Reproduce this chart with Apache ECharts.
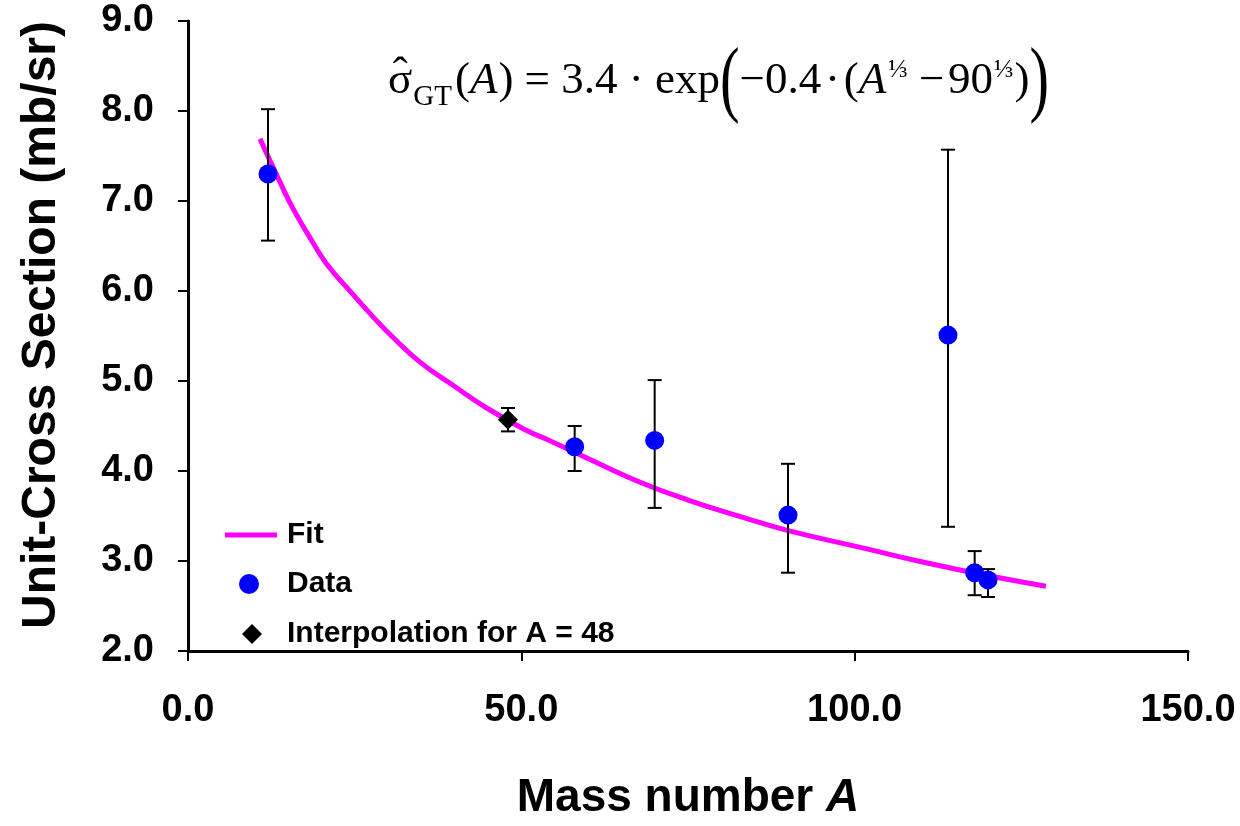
<!DOCTYPE html>
<html><head><meta charset="utf-8">
<script src="https://cdn.jsdelivr.net/npm/echarts@6/dist/echarts.min.js"></script>
<style>html,body{margin:0;padding:0;background:#fff}#c{width:1240px;height:826px}</style>
</head><body><div id="c"></div>
<script>
// ---- data ----
const xTicks = [0, 50, 100, 150];
const yTicks = [2, 3, 4, 5, 6, 7, 8, 9];

// Fit curve
const fitA = [10.8, 13.8, 15.8, 18.8, 20.8, 23.8, 27.8, 30.8, 34.8, 39.8, 44.8, 50.8, 54.2, 61.1, 68.0, 74.9, 83.0, 89.9, 101.5, 110.7, 120.5, 128.7];
const fitV = [7.69, 7.21, 6.91, 6.53, 6.30, 6.04, 5.71, 5.48, 5.21, 4.95, 4.70, 4.45, 4.34, 4.10, 3.87, 3.68, 3.49, 3.34, 3.14, 2.98, 2.83, 2.72];

// Data points with error bars
const dataA  = [12, 58, 70, 90, 114, 118, 120];
const dataV  = [7.30, 4.27, 4.34, 3.51, 5.51, 2.87, 2.79];
const dataHi = [8.02, 4.50, 5.01, 4.08, 7.57, 3.11, 2.91];
const dataLo = [6.56, 4.00, 3.59, 2.87, 3.38, 2.62, 2.60];

// Interpolation point
const interpA  = [48];
const interpV  = [4.57];
const interpHi = [4.70];
const interpLo = [4.44];

const seriesNames = ['Fit', 'Data', 'Interpolation for A = 48'];

// ---- chart ----
const SANS = 'Liberation Sans, Arial, Helvetica, sans-serif';
const SERIF = 'Liberation Serif, Times New Roman, serif';
const chart = echarts.init(document.getElementById('c'), null, {renderer: 'canvas'});

function errRender(params, api) {
  const x = api.value(0), lo = api.value(1), hi = api.value(2);
  const pLo = api.coord([x, lo]), pHi = api.coord([x, hi]);
  const w = 7;
  const st = {stroke: '#000', lineWidth: 2};
  return {type: 'group', children: [
    {type: 'line', shape: {x1: pLo[0], y1: pLo[1], x2: pHi[0], y2: pHi[1]}, style: st},
    {type: 'line', shape: {x1: pLo[0] - w, y1: pLo[1], x2: pLo[0] + w, y2: pLo[1]}, style: st},
    {type: 'line', shape: {x1: pHi[0] - w, y1: pHi[1], x2: pHi[0] + w, y2: pHi[1]}, style: st}
  ]};
}

// formula laid out piece by piece
const mctx = document.createElement('canvas').getContext('2d');
function fontStr(size, italic) { return (italic ? 'italic ' : '') + size + 'px ' + SERIF; }
function measure(t, size, italic) { mctx.font = fontStr(size, italic); return mctx.measureText(t).width; }
const M = 45;
const pieces = [
  {t: 'σ', size: M, base: 96},
  {t: 'GT', size: 29, base: 107, gap: 1},
  {t: '(', size: M, base: 96, gap: 3},
  {t: 'A', size: M, base: 96, italic: true},
  {t: ')', size: M, base: 96, gap: 1},
  {t: ' = 3.4 · exp', size: M, base: 96},
  {t: '(', size: 84, base: 112, sx: 0.7},
  {t: '−0.4\u200a·\u200a(', size: M, base: 96},
  {t: 'A', size: M, base: 96, italic: true},
  {t: '⅓', size: 26, base: 79, gap: 2},
  {t: ' −\u200a90', size: M, base: 96},
  {t: '⅓', size: 26, base: 79, gap: 1},
  {t: ')', size: M, base: 96, gap: 1},
  {t: ')', size: 84, base: 112, sx: 0.7}
];
const formula = [];
let cx = 388;
let sigmaCenter = 0;
pieces.forEach((p, i) => {
  cx += (p.gap || 0);
  const sx = p.sx || 1;
  const wdt = measure(p.t, p.size, p.italic) * sx;
  if (i === 0) sigmaCenter = cx + wdt / 2;
  formula.push({
    type: 'text', x: cx, y: p.base - 0.34 * p.size, scaleX: sx, silent: true,
    style: {text: p.t, font: fontStr(p.size, p.italic), fill: '#000', align: 'left', verticalAlign: 'middle'}
  });
  cx += wdt;
});
formula.push({
  type: 'text', x: sigmaCenter, y: 90 - 0.34 * M, silent: true,
  style: {text: 'ˆ', font: fontStr(M, false), fill: '#000', align: 'center', verticalAlign: 'middle'}
});

const legendText = {fontFamily: SANS, fontWeight: 'bold', fontSize: 30, color: '#000', lineHeight: 34};
const option = {
  animation: false,
  backgroundColor: '#fff',
  grid: {left: 188, right: 52, top: 21, bottom: 161, containLabel: false},
  xAxis: {
    type: 'value', min: xTicks[0], max: xTicks[xTicks.length - 1], interval: xTicks[1] - xTicks[0],
    name: '{b|Mass number }{i|A}', nameLocation: 'middle', nameGap: 124,
    nameTextStyle: {rich: {
      b: {fontFamily: SANS, fontWeight: 'bold', fontSize: 46, color: '#000'},
      i: {fontFamily: SANS, fontWeight: 'bold', fontStyle: 'italic', fontSize: 46, color: '#000'}
    }},
    axisLine: {lineStyle: {color: '#000', width: 3}},
    axisTick: {inside: false, length: 10, lineStyle: {color: '#000', width: 2}},
    axisLabel: {formatter: v => v.toFixed(1), fontFamily: SANS, fontWeight: 'bold', fontSize: 38, color: '#000', margin: 41},
    splitLine: {show: false}
  },
  yAxis: {
    type: 'value', min: yTicks[0], max: yTicks[yTicks.length - 1], interval: yTicks[1] - yTicks[0],
    name: 'Unit-Cross Section (mb/sr)', nameLocation: 'middle', nameGap: 122,
    nameTextStyle: {fontFamily: SANS, fontWeight: 'bold', fontSize: 48, color: '#000', padding: [0, 0, 0, 22]},
    axisLine: {show: true, lineStyle: {color: '#000', width: 3}},
    axisTick: {show: true, inside: false, length: 10, lineStyle: {color: '#000', width: 2}},
    axisLabel: {formatter: v => v.toFixed(1), fontFamily: SANS, fontWeight: 'bold', fontSize: 38, color: '#000', margin: 34},
    splitLine: {show: false}
  },
  legend: [
    {data: [{name: seriesNames[0], icon: 'rect'}], left: 225, top: 535 - 17, padding: 0, itemWidth: 52, itemHeight: 5,
     textStyle: Object.assign({padding: [0, 0, 0, 5]}, legendText), selectedMode: false},
    {data: [{name: seriesNames[1], icon: 'circle'}], left: 239, top: 584 - 17, padding: 0, itemWidth: 20, itemHeight: 20,
     textStyle: Object.assign({padding: [0, 0, 0, 23]}, legendText), selectedMode: false},
    {data: [{name: seriesNames[2], icon: 'diamond'}], left: 242, top: 634 - 17, padding: 0, itemWidth: 20, itemHeight: 20,
     textStyle: Object.assign({padding: [0, 0, 0, 20]}, legendText), selectedMode: false}
  ],
  graphic: formula,
  series: [
    {name: seriesNames[0], type: 'line', data: fitA.map((a, i) => [a, fitV[i]]), smooth: true, showSymbol: false,
     color: '#FF00FF', itemStyle: {color: '#FF00FF'}, lineStyle: {color: '#FF00FF', width: 5}, z: 2},
    {name: 'dataErr', type: 'custom', renderItem: errRender, data: dataA.map((a, i) => [a, dataLo[i], dataHi[i]]),
     encode: {x: 0, y: [1, 2]}, z: 3, silent: true},
    {name: 'interpErr', type: 'custom', renderItem: errRender, data: interpA.map((a, i) => [a, interpLo[i], interpHi[i]]),
     encode: {x: 0, y: [1, 2]}, z: 3, silent: true},
    {name: seriesNames[1], type: 'scatter', data: dataA.map((a, i) => [a, dataV[i]]), symbol: 'circle', symbolSize: 19,
     itemStyle: {color: '#0000FF', opacity: 1}, z: 4},
    {name: seriesNames[2], type: 'scatter', data: interpA.map((a, i) => [a, interpV[i]]), symbol: 'diamond', symbolSize: 20,
     itemStyle: {color: '#000000', opacity: 1}, z: 4}
  ]
};
chart.setOption(option);
</script>
</body></html>
